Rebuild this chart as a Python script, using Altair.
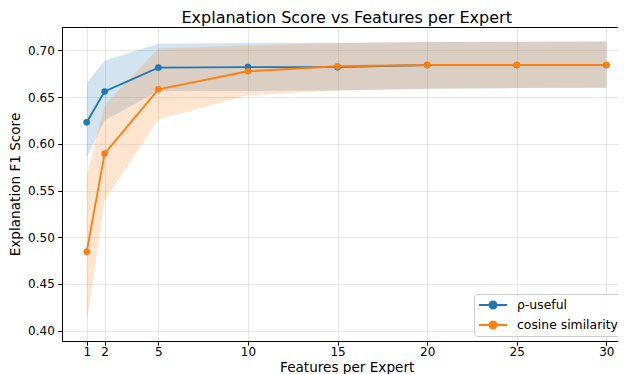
import altair as alt
import pandas as pd

features = [1, 2, 5, 10, 15, 20, 25, 30]
series_names = ["ρ-useful", "cosine similarity"]
colors = ["#1f77b4", "#ff7f0e"]

rho_mean = [0.623, 0.656, 0.6815, 0.682, 0.682, 0.6843, 0.6843, 0.6843]
rho_low = [0.585, 0.625, 0.6565, 0.6565, 0.657, 0.659, 0.6596, 0.660]
rho_high = [0.665, 0.689, 0.707, 0.708, 0.708, 0.709, 0.7093, 0.7096]

cos_mean = [0.4844, 0.5896, 0.6583, 0.6776, 0.683, 0.6843, 0.6843, 0.6843]
cos_low = [0.408, 0.5397, 0.626, 0.652, 0.657, 0.659, 0.6596, 0.660]
cos_high = [0.5664, 0.6412, 0.7018, 0.7053, 0.708, 0.709, 0.7093, 0.7096]

y_ticks = [0.40, 0.45, 0.50, 0.55, 0.60, 0.65, 0.70]
x_ticks = [1, 2, 5, 10, 15, 20, 25, 30]

rows = []
for name, m, lo, hi in [
    (series_names[0], rho_mean, rho_low, rho_high),
    (series_names[1], cos_mean, cos_low, cos_high),
]:
    for xv, a, b, c in zip(features, m, lo, hi):
        rows.append({"x": xv, "series": name, "mean": a, "low": b, "high": c})
df = pd.DataFrame(rows)

FONT = "DejaVu Sans"

x_enc = alt.X(
    "x:Q",
    scale=alt.Scale(domain=[-0.378, 30.65], nice=False, zero=False),
    axis=alt.Axis(values=x_ticks, format="d", title="Features per Expert",
                  titleX=284.7),
)
y_scale = alt.Scale(domain=[0.389, 0.725], nice=False, zero=False)

legend_path = ("M-0.857,0L3.143,0M1.657,0A0.514,0.514,0,1,1,0.629,0"
               "A0.514,0.514,0,1,1,1.657,0Z")

color_enc = alt.Color(
    "series:N",
    scale=alt.Scale(domain=series_names, range=colors),
    legend=alt.Legend(
        title=None,
        orient="none",
        legendX=412,
        legendY=267,
        symbolType=legend_path,
        symbolSize=196,
        symbolStrokeWidth=1.8,
        labelOffset=24,
        labelFontSize=12.4,
        labelFont=FONT,
        labelColor="black",
        labelLimit=300,
        rowPadding=4,
        padding=3,
        strokeColor="#cccccc",
        fillColor="rgba(255,255,255,0.8)",
        cornerRadius=3,
        symbolOpacity=1,
    ),
)

areas = []
for i, name in enumerate(series_names):
    areas.append(
        alt.Chart(df[df["series"] == name])
        .mark_area(opacity=0.2, color=colors[i])
        .encode(
            x=x_enc,
            y=alt.Y("low:Q", scale=y_scale),
            y2="high:Q",
        )
    )

lines = []
for i, name in enumerate(series_names):
    lines.append(
        alt.Chart(df[df["series"] == name])
        .mark_line(strokeWidth=1.86)
        .encode(x=x_enc, y=alt.Y("mean:Q", scale=y_scale), color=color_enc)
    )
points = []
for i, name in enumerate(series_names):
    points.append(
        alt.Chart(df[df["series"] == name])
        .mark_circle(size=44, opacity=1)
        .encode(x=x_enc, y=alt.Y("mean:Q", scale=y_scale), color=color_enc)
    )

y_axis_layer = alt.Chart(df).mark_point(opacity=0).encode(
    x=x_enc,
    y=alt.Y(
        "mean:Q",
        scale=y_scale,
        axis=alt.Axis(values=y_ticks, format=".2f", title="Explanation F1 Score"),
    ),
)

chart = (
    alt.layer(y_axis_layer, *areas, lines[0], lines[1], points[0], points[1])
    .properties(
        width=556,
        height=314,
        padding={"left": 54, "top": 19, "right": 0, "bottom": 33},
        autosize=alt.AutoSizeParams(type="none"),
        title=alt.Title(
            "Explanation Score vs Features per Expert",
            font=FONT,
            fontSize=16,
            fontWeight="normal",
            color="black",
            offset=1.5,
            dx=6.7,
        ),
    )
    .configure_view(stroke="black", strokeWidth=1)
    .configure_axis(
        labelFont=FONT,
        labelFontSize=12,
        labelColor="black",
        titleFont=FONT,
        titleFontSize=13.6,
        titleFontWeight="normal",
        titleColor="black",
        domainColor="black",
        domainWidth=1,
        tickColor="black",
        tickSize=4.2,
        tickWidth=1,
        gridColor="#b0b0b0",
        gridOpacity=0.3,
        gridWidth=1,
        labelPadding=3.5,
    )
    .configure_axisY(titlePadding=5)
    .configure_axisX(titlePadding=2.5, labelPadding=1.5)
)

chart.save("out.html", embed_options={"renderer": "svg", "actions": False})
